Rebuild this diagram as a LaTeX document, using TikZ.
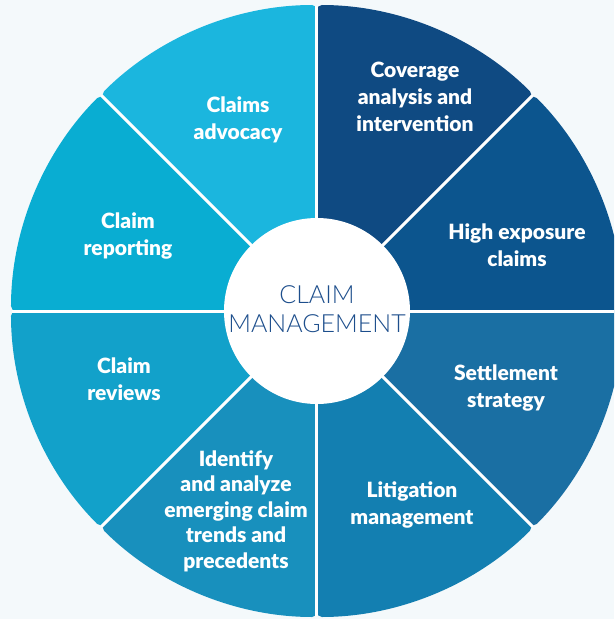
\documentclass[tikz,border=0pt]{standalone}
\usepackage{fontspec}
\setmainfont{Lato}[BoldFont={* Black}]
\newfontfamily\hubfont{Lato}[UprightFont={* Light}]
\usepackage{tikz}
\usetikzlibrary{positioning}

\definecolor{paperbg}{HTML}{F4F9FB}
\definecolor{segHigh}{HTML}{0C558E}
\definecolor{segCover}{HTML}{0F4A82}
\definecolor{segAdvoc}{HTML}{1BB6DE}
\definecolor{segReport}{HTML}{09ADD2}
\definecolor{segReview}{HTML}{12A1CA}
\definecolor{segTrend}{HTML}{1890BD}
\definecolor{segLitig}{HTML}{137FB1}
\definecolor{segSettle}{HTML}{1A6FA3}
\definecolor{hubblue}{HTML}{1D4E8C}

\tikzset{
    seglabel/.style={text=white, align=center, inner sep=0pt,
        font=\bfseries\fontsize{21}{27}\selectfont},
    hubdisc/.style={circle, fill=white, minimum size=186pt, inner sep=0pt},
    hublabel/.style={text=hubblue, align=center, inner sep=0pt,
        font=\hubfont\fontsize{25}{29}\selectfont}
}

\begin{document}
\begin{tikzpicture}[x=1pt,y=1pt]
    \useasboundingbox (-317,-308) rectangle (297,311);
    \fill[paperbg] (-317,-308) rectangle (297,311);
    \clip (-317,-308) rectangle (297,311);

    % wheel segments, counter-clockwise from the right
    \foreach \a/\c in {0/segHigh,45/segCover,90/segAdvoc,135/segReport,
                       180/segReview,225/segTrend,270/segLitig,315/segSettle}
        \fill[\c, rounded corners=5pt] (0,0) -- (\a:306)
            arc[start angle=\a, delta angle=45, radius=306] -- cycle;
    \foreach \a in {0,45,...,315}
        \draw[white, line width=3pt] (0,0) -- (\a:305);

    \node[hubdisc] (hub) at (0,0) {};
    \node[hublabel] (hubtext) at (0,2) {CLAIM\\MANAGEMENT};

    \node[seglabel] (cover) at (98,214) {Coverage\\analysis and\\intervention};
    \node[seglabel] (advoc) at (-79,191) {Claims\\advocacy};
    \node[seglabel] (high) at (200,66) {High exposure\\claims};
    \node[seglabel] (report) at (-189,75) {Claim\\reporting};
    \node[seglabel] (review) at (-193,-68) {Claim\\reviews};
    \node[seglabel] (settle) at (189,-77) {Settlement\\strategy};
    \node[seglabel, font=\bfseries\fontsize{21}{25.5}\selectfont] (trend) at (-81,-200)
        {Identify\\and analyze\\emerging claim\\trends and\\precedents};
    \node[seglabel] (litig) at (95,-194) {Litigation\\management};
\end{tikzpicture}
\end{document}
